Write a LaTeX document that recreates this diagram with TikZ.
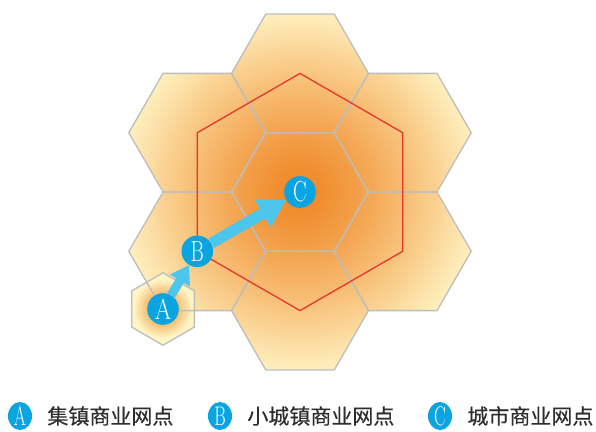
\documentclass[tikz,border=0pt]{standalone}
\usepackage{fontspec}
\newfontfamily\cjk[FakeBold=0.4]{Noto Sans CJK SC}
\usepackage{graphicx}
\usetikzlibrary{arrows.meta,positioning,calc,shapes.geometric}
\definecolor{hexgray}{HTML}{BDBDBD}
\definecolor{hexred}{HTML}{E8352A}
\definecolor{dotblue}{HTML}{0AA5E0}
\definecolor{arrblue}{HTML}{4DC6EE}
\definecolor{keygray}{HTML}{2E2E2E}
\definecolor{glowin}{HTML}{EF8624}
\definecolor{glowout}{HTML}{FFF4C4}
\definecolor{aglowin}{HTML}{F6B464}
% hexagon path: centre, radius, angle of first corner
\newcommand\hexat[3]{($(#1)+(#3:#2)$) -- ($(#1)+(#3+60:#2)$) -- ($(#1)+(#3+120:#2)$)
  -- ($(#1)+(#3+180:#2)$) -- ($(#1)+(#3+240:#2)$) -- ($(#1)+(#3+300:#2)$) -- cycle}
\newcommand\narrow[2]{\scalebox{#1}[1]{#2}}
\def\hexR{68.5}

\begin{document}
\begin{tikzpicture}[x=1pt, y=-1pt,
      hexline/.style={draw=hexgray, line width=1.3pt, line join=round},
      redline/.style={draw=hexred, line width=1.3pt, line join=round},
      dot/.style={circle, fill=dotblue, minimum size=31.6pt, inner sep=0pt,
                  text=white, font=\fontsize{29}{29}\selectfont},
      key/.style={ellipse, fill=dotblue, minimum width=24pt, minimum height=28pt,
                  inner sep=0pt, text=white, font=\fontsize{27}{27}\selectfont},
      keytext/.style={right=15pt of #1, inner sep=0pt, text=keygray,
                  font=\cjk\fontsize{21}{21}\selectfont},
      arrs/.style={-{Triangle[length=18pt,width=22pt]}, line width=9pt, draw=arrblue},
      arrl/.style={-{Triangle[length=27pt,width=30pt]}, line width=11pt, draw=arrblue}
  ]
    \useasboundingbox (0,0) rectangle (596,431);
    \coordinate (h0) at (300,192);
    \foreach \i/\a in {1/30,2/90,3/150,4/210,5/270,6/330}
      \coordinate (h\i) at ($(h0)+(\a:118.6)$);
    \coordinate (hA) at (163,309);

    % shaded cells: rings from pale rim to orange core
    \begin{scope}
      \clip \hexat{h0}{\hexR}{0} \hexat{h1}{\hexR}{0} \hexat{h2}{\hexR}{0} \hexat{h3}{\hexR}{0}
            \hexat{h4}{\hexR}{0} \hexat{h5}{\hexR}{0} \hexat{h6}{\hexR}{0};
      \fill[glowout] (h0) circle (200);
      \foreach \r in {185,182,...,3} {
        \pgfmathtruncatemacro\p{100*(\r/185)^1.25}
        \fill[glowout!\p!glowin] (h0) circle (\r);
      }
    \end{scope}
    \begin{scope}
      \clip \hexat{hA}{36.2}{30};
      \fill[glowout] (hA) circle (40);
      \foreach \r in {30,28,...,14} {
        \pgfmathtruncatemacro\p{(\r-14)*100/16}
        \fill[glowout!\p!aglowin] (hA) circle (\r);
      }
    \end{scope}

    \foreach \i in {0,...,6}
      \draw[hexline] \hexat{h\i}{\hexR}{0};
    \draw[hexline] \hexat{hA}{36.2}{30};
    \draw[redline] (h1) -- (h2) -- (h3) -- (h4) -- (h5) -- (h6) -- cycle;

    \node[dot] (A) at (hA) {\narrow{0.82}{A}};
    \node[dot] (B) at (h3) {\narrow{0.7}{B}};
    \node[dot] (C) at (h0) {\narrow{0.7}{C}};
    \draw[arrs] (A) -- (B);
    \draw[arrl] (B) -- (C);

    % legend
    \node[key] (ka) at (20,416) {\narrow{0.65}{A}};
    \node[keytext=ka] (ta) {集镇商业网点};
    \node[key] (kb) at (220,416) {\narrow{0.65}{B}};
    \node[keytext=kb] (tb) {小城镇商业网点};
    \node[key] (kc) at (440,416) {\narrow{0.65}{C}};
    \node[keytext=kc] (tc) {城市商业网点};
  \end{tikzpicture}
\end{document}
